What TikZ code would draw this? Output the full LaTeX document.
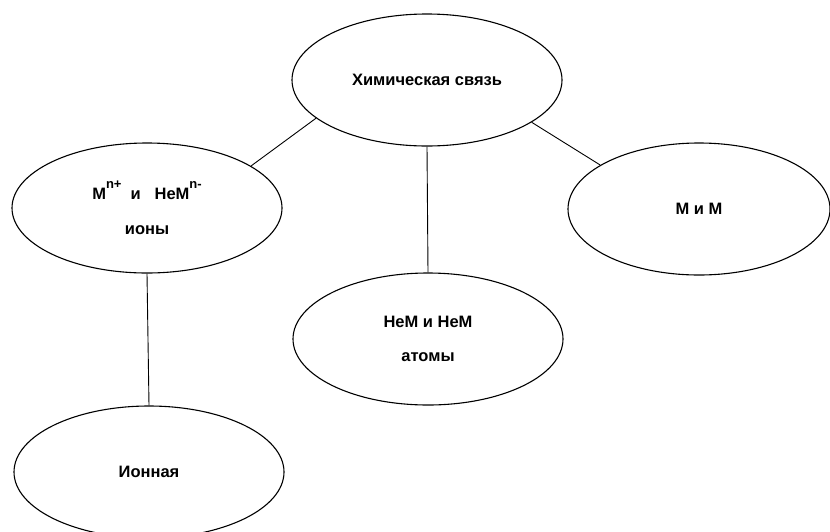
\documentclass[tikz,border=0pt]{standalone}
\usepackage{fontspec}
\setmainfont{Liberation Sans}
\usepackage{tikz}
\usetikzlibrary{shapes.geometric}
\tikzset{oval/.style={ellipse,draw,line width=1.1pt,inner sep=0pt,minimum width=270pt,minimum height=132pt,align=center,font=\bfseries\fontsize{16.5}{19}\selectfont}}
\newcommand{\zaryad}[1]{\raisebox{11pt}{\fontsize{13}{13}\selectfont #1}}
\begin{document}
\begin{tikzpicture}[x=1pt,y=-1pt]
\useasboundingbox(0,0)rectangle(830,531);
\node[oval](svyaz)at(427,80){Химическая связь};
\node[oval,minimum height=130pt](iony)at(147,208){M\zaryad{n+}\ \ и\ \ \ НеМ\zaryad{n-}\\[16pt]ионы};
\node[oval](atomy)at(428,339){НеМ и НеМ\\[15pt]атомы};
\node[oval,minimum width=262pt](metall)at(699,209){М и М};
\node[oval](ionnaya)at(149,472){Ионная};
\draw[line width=0.9pt](svyaz.199)--(iony.22);
\draw[line width=0.9pt](svyaz.south)--(atomy.north);
\draw[line width=0.9pt](svyaz.338)--(metall.156);
\draw[line width=0.9pt](iony.south)--(ionnaya.north);
\end{tikzpicture}
\end{document}
